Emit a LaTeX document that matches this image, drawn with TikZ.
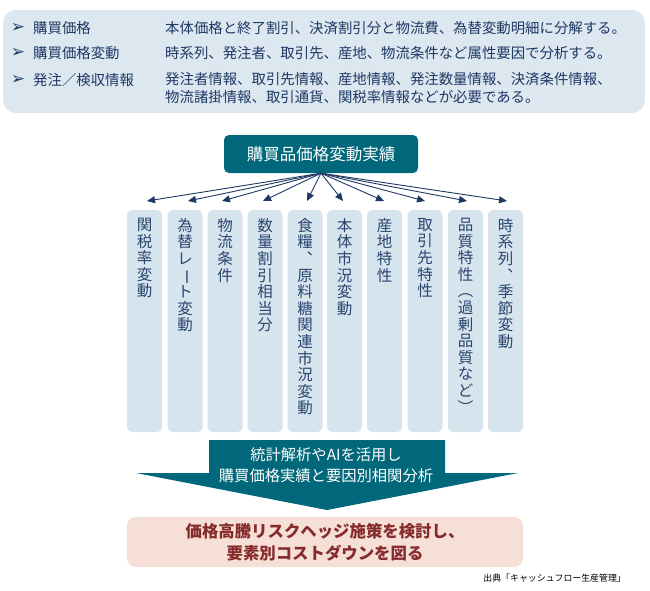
\documentclass[tikz,border=0pt]{standalone}
\usepackage{fontspec}
\usepackage{graphicx}
\setmainfont{Noto Sans CJK JP}
\newfontfamily\dejavu{DejaVu Sans}
\usetikzlibrary{arrows.meta}
\definecolor{cPanel}{HTML}{DCE7F0}
\definecolor{cCol}{HTML}{D6E4EE}
\definecolor{cTeal}{HTML}{00687A}
\definecolor{cNavy}{HTML}{1F3864}
\definecolor{cColText}{HTML}{2A456E}
\definecolor{cPink}{HTML}{F6DFD7}
\definecolor{cRed}{HTML}{862B2B}
\tikzset{
  toptext/.style={anchor=west,inner sep=0pt,text=cNavy,font={\fontsize{14.4}{18}\selectfont}},
  bullet/.style={anchor=center,inner sep=0pt,text=cNavy,font={\dejavu\fontsize{17}{18}\selectfont}},
  colbox/.style={draw=none,fill=cCol,rounded corners=5pt,minimum width=35pt,minimum height=222pt,inner sep=0pt},
  coltext/.style={anchor=north,inner sep=0pt,align=center,text=cColText,font={\fontsize{15.5}{16.6}\selectfont}},
  conn/.style={draw=cNavy,line width=0.9pt,-{Triangle[length=8pt,width=7pt]}},
}
\begin{document}
\begin{tikzpicture}[x=1pt,y=-1pt]
\useasboundingbox (0,0) rectangle (650,590);
% top panel
\node[fill=cPanel,rounded corners=13pt,minimum width=642pt,minimum height=103pt,inner sep=0pt] (panel) at (324,61.5) {};
\node[bullet] (b1) at (18,28) {➢};
\node[bullet] (b2) at (18,53) {➢};
\node[bullet] (b3) at (18,80) {➢};
\node[toptext] (l1) at (33,28) {購買価格};
\node[toptext] (l2) at (33,53) {購買価格変動};
\node[toptext] (l3) at (33,80) {発注／検収情報};
\node[toptext] (d1) at (165,28) {本体価格と終了割引、決済割引分と物流費、為替変動明細に分解する。};
\node[toptext] (d2) at (165,53) {時系列、発注者、取引先、産地、物流条件など属性要因で分析する。};
\node[toptext,anchor=north west,align=left] (d3) at (165,72) {発注者情報、取引先情報、産地情報、発注数量情報、決済条件情報、\\物流諸掛情報、取引通貨、関税率情報などが必要である。};
% head box
\node[fill=cTeal,rounded corners=5pt,minimum width=194pt,minimum height=38pt,inner sep=0pt,text=white,font={\fontsize{16.5}{18}\selectfont}] (head) at (321,154) {購買品価格変動実績};
% columns
\foreach \i/\x in {1/144.5,2/185,3/225,4/265,5/305,6/344.5,7/384.5,8/425,9/465.5,10/505.5}{
  \node[colbox] (c\i) at (\x,321) {};
}
\node[coltext] (v1) at (c1.north |- 0,218) {関\\税\\率\\変\\動};
\node[coltext] (v2) at (c2.north |- 0,218) {為\\替\\レ\\\rotatebox[origin=c]{-90}{ー}\\ト\\変\\動};
\node[coltext] (v3) at (c3.north |- 0,218) {物\\流\\条\\件};
\node[coltext] (v4) at (c4.north |- 0,218) {数\\量\\割\\引\\相\\当\\分};
\node[coltext] (v5) at (c5.north |- 0,218) {食\\糧\\︑\\原\\料\\糖\\関\\連\\市\\況\\変\\動};
\node[coltext] (v6) at (c6.north |- 0,218) {本\\体\\市\\況\\変\\動};
\node[coltext] (v7) at (c7.north |- 0,218) {産\\地\\特\\性};
\node[coltext] (v8) at (c8.north |- 0,218) {取\\引\\先\\特\\性};
\node[coltext] (v9) at (c9.north |- 0,218) {品\\質\\特\\性\\︵\\過\\剰\\品\\質\\な\\ど\\︶};
\node[coltext] (v10) at (c10.north |- 0,218) {時\\系\\列\\︑\\季\\節\\変\\動};
% arrow tips
\foreach \i/\x in {1/147,2/188,3/222,4/263,5/307,6/343,7/384,8/425,9/467,10/507}{
  \coordinate (t\i) at (\x,201);
  \draw[conn] (head.south) -- (t\i);
}
% big arrow
\fill[cTeal] (209,440) -- (445,440) -- (445,473) -- (518,473) -- (327,510) -- (136,473) -- (209,473) -- cycle;
\node[inner sep=0pt,align=center,text=white,font={\fontsize{15.3}{21}\selectfont}] (an) at (326,465.5) {統計解析やAIを活用し\\購買価格実績と要因別相関分析};
% result box
\node[fill=cPink,rounded corners=9pt,minimum width=396pt,minimum height=50pt,inner sep=0pt,align=center,text=cRed,font={\bfseries\fontsize{16.4}{22}\selectfont}] (res) at (325,542) {価格高騰リスクヘッジ施策を検討し、\\要素別コストダウンを図る};
% source
\node[anchor=east,inner sep=0pt,text=black,font={\fontsize{8.9}{10}\selectfont}] (src) at (626,578) {出典「キャッシュフロー生産管理」};
\end{tikzpicture}
\end{document}
